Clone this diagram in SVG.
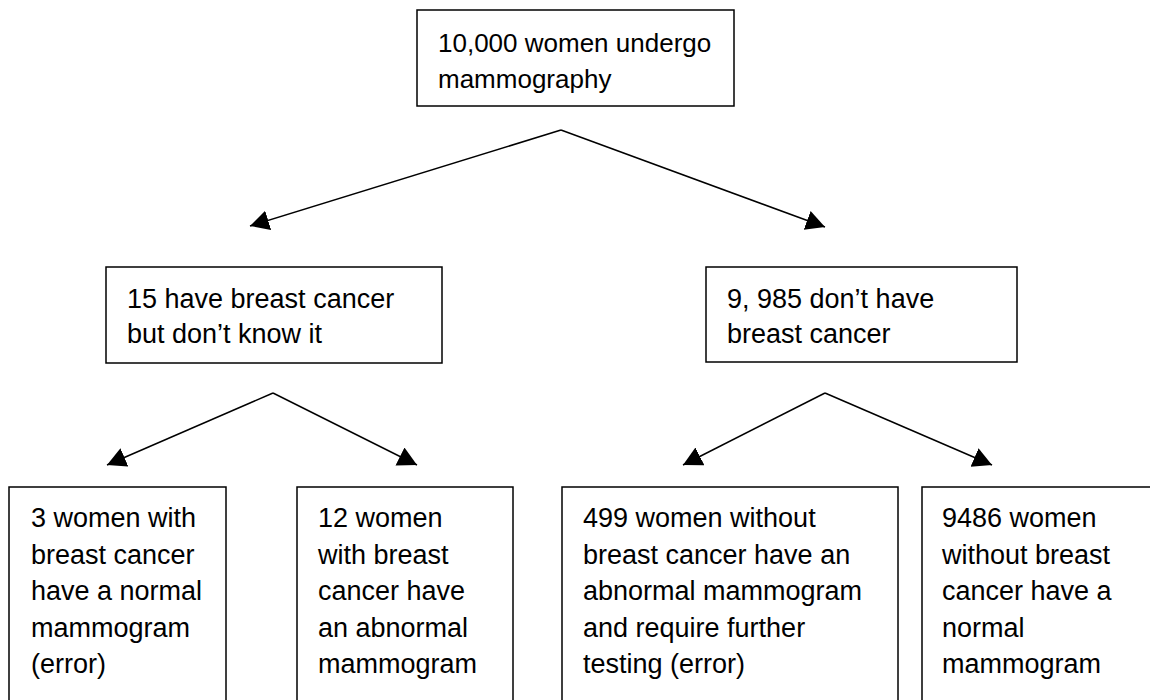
<svg xmlns="http://www.w3.org/2000/svg" width="1150" height="700" viewBox="0 0 1150 700">
  <style>
    .box { fill: #ffffff; stroke: #000000; stroke-width: 1.5; }
    .lbl { font-family: "Liberation Sans", Arial, sans-serif; font-size: 27px; fill: #000000; }
    .top { font-size: 26px; }
    .conn { stroke: #000000; stroke-width: 1.5; fill: none; marker-end: url(#arrow); }
  </style>
  <defs>
    <marker id="arrow" markerUnits="userSpaceOnUse" markerWidth="22" markerHeight="22" refX="19" refY="10" orient="auto">
      <path d="M0,0 L19,10 L0,20 z" fill="#000000"/>
    </marker>
  </defs>
  <rect width="1150" height="700" fill="#ffffff"/>

  <g id="connectors">
    <line class="conn" x1="561" y1="130" x2="250" y2="226"/>
    <line class="conn" x1="561" y1="130" x2="825" y2="227"/>
    <line class="conn" x1="273" y1="393" x2="107" y2="465"/>
    <line class="conn" x1="273" y1="393" x2="417" y2="465"/>
    <line class="conn" x1="825" y1="393" x2="683" y2="465"/>
    <line class="conn" x1="825" y1="393" x2="992" y2="465"/>
  </g>

  <g id="node-root">
    <rect class="box" x="417" y="10" width="317" height="96"/>
    <text class="lbl top" x="438" y="52">10,000 women undergo</text>
    <text class="lbl top" x="438" y="88">mammography</text>
  </g>

  <g id="node-cancer">
    <rect class="box" x="106" y="267" width="336" height="96"/>
    <text class="lbl" x="127" y="308">15 have breast cancer</text>
    <text class="lbl" x="127" y="343">but don’t know it</text>
  </g>

  <g id="node-nocancer">
    <rect class="box" x="706" y="267" width="311" height="95"/>
    <text class="lbl" x="727" y="308">9, 985 don’t have</text>
    <text class="lbl" x="727" y="343">breast cancer</text>
  </g>

  <g id="node-false-negative">
    <rect class="box" x="9" y="487" width="217" height="230"/>
    <text class="lbl" x="31" y="527">3 women with</text>
    <text class="lbl" x="31" y="563.5">breast cancer</text>
    <text class="lbl" x="31" y="600">have a normal</text>
    <text class="lbl" x="31" y="636.5">mammogram</text>
    <text class="lbl" x="31" y="673">(error)</text>
  </g>

  <g id="node-true-positive">
    <rect class="box" x="297" y="487" width="216" height="230"/>
    <text class="lbl" x="318" y="527">12 women</text>
    <text class="lbl" x="318" y="563.5">with breast</text>
    <text class="lbl" x="318" y="600">cancer have</text>
    <text class="lbl" x="318" y="636.5">an abnormal</text>
    <text class="lbl" x="318" y="673">mammogram</text>
  </g>

  <g id="node-false-positive">
    <rect class="box" x="562" y="487" width="336" height="230"/>
    <text class="lbl" x="583" y="527">499 women without</text>
    <text class="lbl" x="583" y="563.5">breast cancer have an</text>
    <text class="lbl" x="583" y="600">abnormal mammogram</text>
    <text class="lbl" x="583" y="636.5">and require further</text>
    <text class="lbl" x="583" y="673">testing (error)</text>
  </g>

  <g id="node-true-negative">
    <rect class="box" x="922" y="487" width="240" height="230"/>
    <text class="lbl" x="942" y="527">9486 women</text>
    <text class="lbl" x="942" y="563.5">without breast</text>
    <text class="lbl" x="942" y="600">cancer have a</text>
    <text class="lbl" x="942" y="636.5">normal</text>
    <text class="lbl" x="942" y="673">mammogram</text>
  </g>
</svg>
